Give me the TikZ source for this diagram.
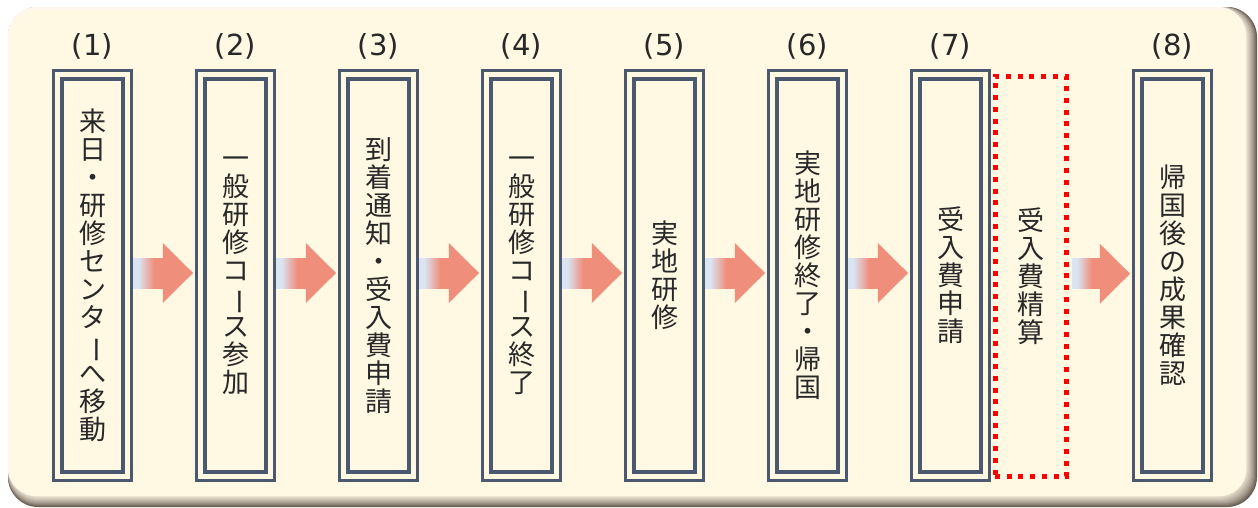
\documentclass[tikz,border=0pt]{standalone}
\usepackage{fontspec}
\usepackage{graphicx}
\newfontfamily\cjk{Noto Sans CJK JP}
\newfontfamily\labfont{DejaVu Sans}
\usetikzlibrary{calc}
\definecolor{cream}{RGB}{255,248,226}
\definecolor{hl}{RGB}{255,246,236}
\definecolor{bevel}{RGB}{246,236,218}
\definecolor{shadowc}{RGB}{105,94,84}
\definecolor{frameline}{RGB}{74,89,112}
\definecolor{salmon}{RGB}{240,142,124}
\definecolor{ablue}{RGB}{218,228,242}
\definecolor{txt}{RGB}{40,40,40}
\definecolor{dotred}{RGB}{255,0,0}
\pgfdeclarehorizontalshading{arrowshade}{100bp}{color(0bp)=(ablue); color(34bp)=(ablue); color(60bp)=(salmon); color(100bp)=(salmon)}
\newcommand\vbar{\rotatebox[origin=c]{-90}{ー}}
\newcommand\flowarrow[3]{%
  \shade[shading=arrowshade] let \p1=(#1.east), \p2=(#2.west) in
    (\x1+#3,\y1+17.5pt) rectangle (\x2-33.3pt,\y1-12.5pt);
  \fill[salmon] let \p1=(#1.east), \p2=(#2.west) in
    (\x2-33.6pt,\y1+32.5pt) -- (\x2-3.3pt,\y1+2.5pt) -- (\x2-33.6pt,\y1-27.5pt) -- cycle;
}
\begin{document}
\begin{tikzpicture}[x=1pt,y=-1pt,
  box/.style={draw=frameline, line width=2.7pt, outer sep=0pt, inner sep=0pt,
    minimum width=78.3pt, minimum height=410.3pt, align=center,
    font=\cjk\fontsize{27}{28}\selectfont, text=txt},
  innerline/.style={draw=frameline, line width=3.7pt},
  redbox/.style={draw=dotred, line width=5pt, dash pattern=on 5pt off 6.7pt,
    outer sep=0pt, inner sep=0pt, minimum width=71pt, minimum height=400.5pt,
    align=center, font=\cjk\fontsize{27}{28}\selectfont, text=txt},
  lab/.style={font=\labfont\fontsize{29}{32}\selectfont, text=txt, inner sep=0pt}]
\useasboundingbox (0,0) rectangle (1258,507);
\fill[white] (0,0) rectangle (1258,507);
% background panel with bevel
\foreach \i/\c in {0/100,1/88,2/76,3/65,4/55,5/46,6/38,7/30,8/22,9/15,10/9,11/4}{
  \fill[shadowc!\c!bevel, rounded corners=30pt] (8,7) rectangle (1257-\i,507-\i);
}
\fill[hl, rounded corners=28pt] (8,7) rectangle (1246,496);
\fill[cream, rounded corners=26pt] (11,10) rectangle (1246,496);

% boxes
\node[box] (b1) at (92.5,275.5) {来\\日\\・\\研\\修\\セ\\ン\\タ\\\vbar\\へ\\移\\動};
\node[box] (b2) at (235.5,275.5) {一\\般\\研\\修\\コ\\\vbar\\ス\\参\\加};
\node[box] (b3) at (378.5,275.5) {到\\着\\通\\知\\・\\受\\入\\費\\申\\請};
\node[box] (b4) at (521.5,275.5) {一\\般\\研\\修\\コ\\\vbar\\ス\\終\\了};
\node[box] (b5) at (664.5,275.5) {実\\地\\研\\修};
\node[box] (b6) at (807.5,275.5) {実\\地\\研\\修\\終\\了\\・\\帰\\国};
\node[box] (b7) at (950.5,275.5) {受\\入\\費\\申\\請};
\node[redbox] (rb) at (1030.5,276.25) {受\\入\\費\\精\\算};
\node[box] (b8) at (1172.5,275.5) {帰\\国\\後\\の\\成\\果\\確\\認};
\foreach \b in {b1,b2,b3,b4,b5,b6,b7,b8}{
  \draw[innerline] ([shift={(8.65pt,-8.65pt)}]\b.north west) rectangle ([shift={(-8.65pt,8.65pt)}]\b.south east);
}

% labels
\node[lab] (l1) at (92.5,46) {(1)};
\node[lab] (l2) at (235.5,46) {(2)};
\node[lab] (l3) at (378.5,46) {(3)};
\node[lab] (l4) at (521.5,46) {(4)};
\node[lab] (l5) at (664.5,46) {(5)};
\node[lab] (l6) at (807.5,46) {(6)};
\node[lab] (l7) at (950.5,46) {(7)};
\node[lab] (l8) at (1172.5,46) {(8)};

% arrows
\flowarrow{b1}{b2}{1.4pt}
\flowarrow{b2}{b3}{1.4pt}
\flowarrow{b3}{b4}{1.4pt}
\flowarrow{b4}{b5}{1.4pt}
\flowarrow{b5}{b6}{1.4pt}
\flowarrow{b6}{b7}{1.4pt}
\flowarrow{rb}{b8}{6pt}
\end{tikzpicture}
\end{document}
